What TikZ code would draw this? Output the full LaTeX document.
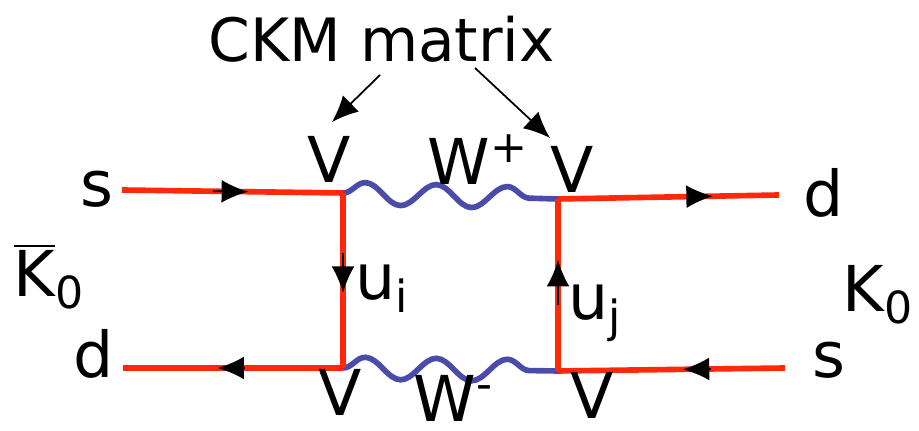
\documentclass[tikz,border=0pt]{standalone}
\usepackage{fontspec}
\setmainfont{DejaVu Sans}
\usetikzlibrary{arrows.meta,decorations.pathmorphing,decorations.markings}
\definecolor{quarkred}{RGB}{255,40,10}
\definecolor{wblue}{RGB}{75,75,170}

\begin{document}
\begin{tikzpicture}[
    quark/.style 2 args={draw=quarkred, line width=1.6pt, postaction={decorate},
        decoration={markings, mark=at position #1 with {\draw[black, line width=0.5pt, -{Latex[length=7.5pt,width=6.5pt]}] (-#2,0) -- (0,0);}}},
    wboson/.style={draw=wblue, line width=1.6pt, decorate,
        decoration={snake, segment length=0.71cm, amplitude=0.11cm}},
    lbl/.style={inner sep=0pt, anchor=base west, font=\fontsize{18}{20}\selectfont},
    pointer/.style={-{Latex[length=7.5pt,width=6.5pt]}, line width=0.5pt}
]
    \useasboundingbox (0,0) rectangle (9.19,4.31);

    % Vertices and external ends
    \coordinate (vtl) at (3.43,2.38);
    \coordinate (vbl) at (3.43,0.63);
    \coordinate (vtr) at (5.58,2.32);
    \coordinate (vbr) at (5.58,0.60);
    \coordinate (sin) at (1.22,2.41);
    \coordinate (din) at (1.23,0.63);
    \coordinate (dout) at (7.79,2.36);
    \coordinate (sout) at (7.85,0.63);

    % W bosons
    \draw[wboson] (vtl) -- (vtr);
    \draw[wboson] (vbl) -- (vbr);

    % Quark lines
    \draw[quark={0.57}{0.35}] (sin) -- (vtl);
    \draw[quark={0.57}{0.40}] (vtl) -- (vbl);
    \draw[quark={0.57}{0.27}] (vbl) -- (din);
    \draw[quark={0.70}{0.20}] (vtr) -- (dout);
    \draw[quark={0.645}{0.45}] (vbr) -- (vtr);
    \draw[quark={0.45}{0.28}] (sout) -- (vbr);

    % Labels
    \node[lbl] (sL) at (0.80,2.24) {s};
    \node[lbl] (dL) at (0.73,0.53) {d};
    \node[lbl] (dR) at (8.03,2.14) {d};
    \node[lbl] (sR) at (8.12,0.53) {s};
    \node[lbl] (kbar) at (0.13,1.34) {\(\overline{\mbox{K}}\)\textsubscript{0}};
    \node[lbl] (k) at (8.42,1.19) {K\textsubscript{0}};
    \node[lbl] (Vtl) at (3.07,2.48) {V};
    \node[lbl] (Vtr) at (5.50,2.38) {V};
    \node[lbl] (Vbl) at (3.18,0.15) {V};
    \node[lbl] (Vbr) at (5.70,0.12) {V};
    \node[lbl] (wp) at (4.27,2.46) {W\textsuperscript{+}};
    \node[lbl] (wm) at (4.13,0.09) {W\textsuperscript{-}};
    \node[lbl] (ui) at (3.55,1.31) {u\textsubscript{i}};
    \node[lbl] (uj) at (5.68,1.11) {u\textsubscript{j}};
    \node[lbl, font=\fontsize{17}{20}\selectfont] (ckm) at (2.08,3.69) {CKM matrix};

    % CKM pointers
    \coordinate (ckmL) at (3.80,3.56);
    \coordinate (ckmLtip) at (3.32,3.09);
    \coordinate (ckmR) at (4.75,3.63);
    \coordinate (ckmRtip) at (5.50,2.93);
    \draw[pointer] (ckmL) -- (ckmLtip);
    \draw[pointer] (ckmR) -- (ckmRtip);
\end{tikzpicture}
\end{document}
